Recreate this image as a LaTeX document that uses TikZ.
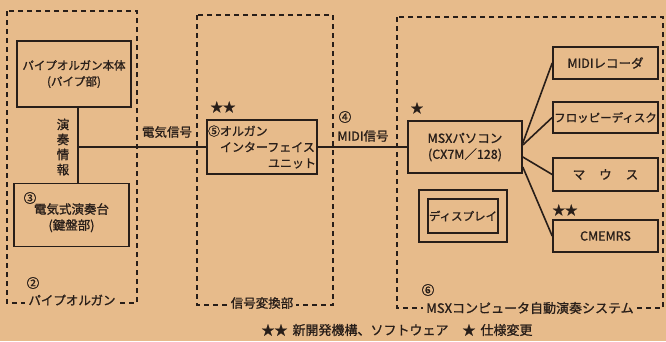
\documentclass[tikz,border=0pt]{standalone}
\usepackage{fontspec}
\setmainfont{Noto Sans CJK JP}[FakeBold=1]
\usepackage{xcolor}
\usetikzlibrary{positioning}
\definecolor{paper}{RGB}{231,187,139}
\definecolor{ink}{RGB}{40,30,25}

\begin{document}
\begin{tikzpicture}[
      x=1pt, y=-1pt,
      box/.style={rectangle, draw=ink, line width=1.6pt, align=center,
                  inner sep=1pt, text=ink, font=\fontsize{12.5}{16}\selectfont},
      grp/.style={draw=ink, line width=2pt, dash pattern=on 5pt off 4pt},
      lbl/.style={text=ink, inner sep=1pt, font=\fontsize{12.5}{15}\selectfont},
      grplbl/.style={lbl, fill=paper, inner sep=3pt},
      wire/.style={draw=ink, line width=1.6pt}
    ]
    \fill[paper] (0,0) rectangle (666,341);
    \useasboundingbox (0,0) rectangle (666,341);
    \draw[grp] (7,11) rectangle (137,303);
    \draw[grp] (197,15) rectangle (333,305);
    \draw[grp] (397,17) rectangle (663,308);
    \node[box, minimum width=114pt, minimum height=66pt, font=\fontsize{11.5}{16}\selectfont]
      (body) at (74,74) {パイプオルガン本体\\(パイプ部)};
    \node[box, minimum width=115pt, minimum height=63pt] (keys) at (71.5,215)
      {\mbox{}\\電気式演奏台\\(鍵盤部)};
    \node[box, minimum width=110pt, minimum height=54pt, align=left,
          font=\fontsize{12}{16}\selectfont] (ifu) at (262,147)
      {⑤オルガン\\\hspace{1em}インターフェイス\\\hspace{5em}ユニット};
    \node[box, minimum width=114pt, minimum height=52pt] (msx) at (465,147)
      {MSXパソコン\\(CX7M／128)};
    \node[box, minimum width=88pt, minimum height=52pt] (dispo) at (463,216) {};
    \node[box, minimum width=66pt, minimum height=34pt, font=\fontsize{11.5}{15}\selectfont]
      (disp) at (463,216) {ディスプレイ};
    \node[box, minimum width=105pt, minimum height=32pt] (rec) at (605.5,63) {MIDIレコーダ};
    \node[box, minimum width=105pt, minimum height=31pt, font=\fontsize{11.5}{15}\selectfont]
      (fdd) at (605.5,117.5) {フロッピーディスク};
    \node[box, minimum width=105pt, minimum height=33pt] (mouse) at (605.5,174.5)
      {マ\hspace{14pt}ウ\hspace{14pt}ス};
    \node[box, minimum width=105pt, minimum height=32pt] (cme) at (605.5,236) {CMEMRS};
    \coordinate (jn) at (78,147);
    \draw[wire] (jn |- body.south) -- (jn |- keys.north);
    \draw[wire] (jn) -- (ifu.west);
    \draw[wire] (ifu.east) -- (msx.west);
    \draw[wire] ([yshift=4pt]msx.east) -- (rec.west);
    \draw[wire] ([yshift=2pt]msx.east) -- (fdd.west);
    \draw[wire] ([yshift=-10pt]msx.east) -- (mouse.west);
    \draw[wire] ([yshift=-20pt]msx.east) -- (cme.west);
    \node[lbl, align=center] (play) at (63,147) {演\\奏\\情\\報};
    \node[lbl] (esig) at (167,132) {電気信号};
    \node[lbl] (n3) at (30,198) {③};
    \node[lbl] (n2) at (33,283) {②};
    \node[grplbl] (organ) at (72,300) {パイプオルガン};
    \node[lbl] (s5) at (223,107) {★★};
    \node[grplbl] (conv) at (262,303) {信号変換部};
    \node[lbl] (n4) at (345,117) {④};
    \node[lbl] (msig) at (363,136) {MIDI信号};
    \node[lbl] (s6) at (417,108) {★};
    \node[lbl] (s7) at (565,210) {★★};
    \node[lbl] (n6) at (428,290) {⑥};
    \node[grplbl, font=\fontsize{13}{15}\selectfont] (sys) at (530,308)
      {MSXコンピュータ自動演奏システム};
    \node[lbl, font=\fontsize{13}{15}\selectfont] (legend) at (397,330)
      {★★\hspace{5pt}新開発機構、ソフトウェア\hspace{14pt}★\hspace{5pt}仕様変更};
  \end{tikzpicture}
\end{document}
